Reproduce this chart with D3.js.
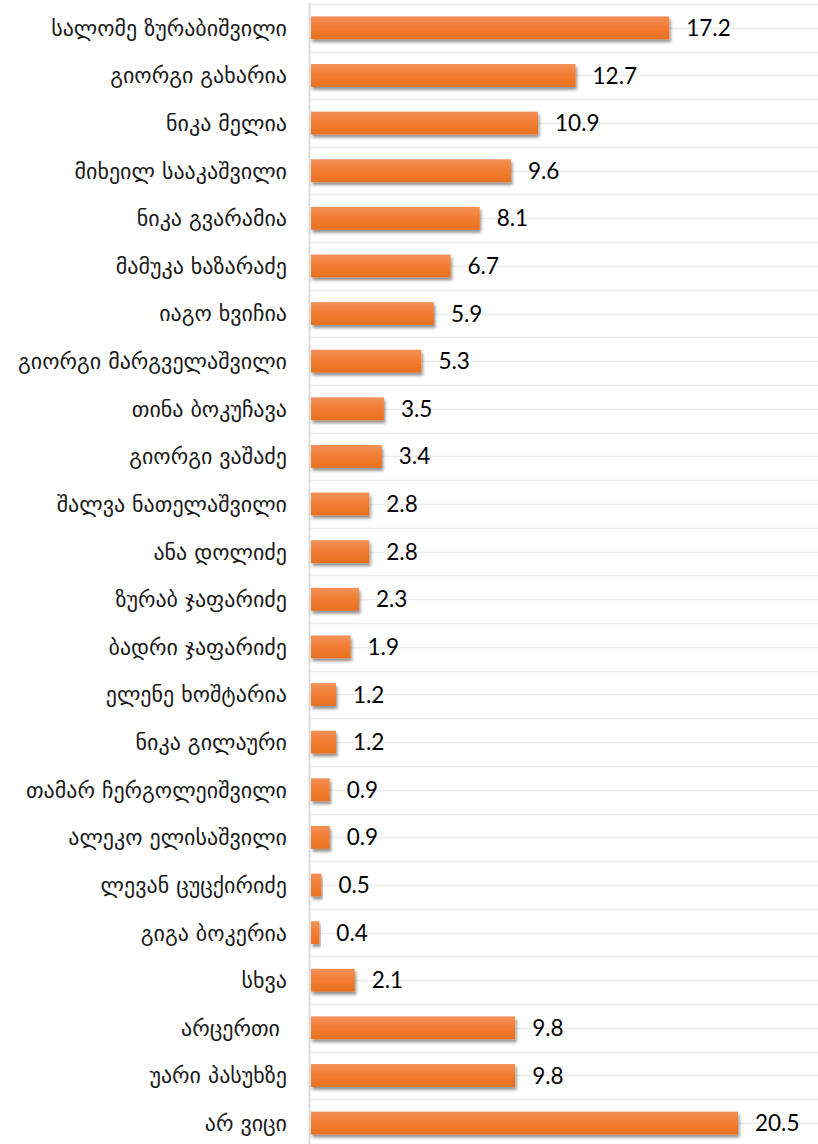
<!DOCTYPE html>
<html>
<head>
<meta charset="utf-8">
<script src="https://cdn.jsdelivr.net/npm/d3@7"></script>
<style>
  html, body { margin: 0; padding: 0; background: #ffffff; }
  svg { display: block; }
  .cat { font-family: "DejaVu Sans", sans-serif; fill: #1a1a1a; white-space: pre; }
  .val { font-family: Lato, "Open Sans", sans-serif; fill: #000000; }
</style>
</head>
<body>
<svg id="chart" width="818" height="1144"></svg>
<script>
// Survey answers, top to bottom
const categories = [
  "სალომე ზურაბიშვილი",
  "გიორგი გახარია",
  "ნიკა მელია",
  "მიხეილ სააკაშვილი",
  "ნიკა გვარამია",
  "მამუკა ხაზარაძე",
  "იაგო ხვიჩია",
  "გიორგი მარგველაშვილი",
  "თინა ბოკუჩავა",
  "გიორგი ვაშაძე",
  "შალვა ნათელაშვილი",
  "ანა დოლიძე",
  "ზურაბ ჯაფარიძე",
  "ბადრი ჯაფარიძე",
  "ელენე ხოშტარია",
  "ნიკა გილაური",
  "თამარ ჩერგოლეიშვილი",
  "ალეკო ელისაშვილი",
  "ლევან ცუცქირიძე",
  "გიგა ბოკერია",
  "სხვა",
  "არცერთი ",
  "უარი პასუხზე",
  "არ ვიცი"
];

// Share of respondents, %
const values = [
  17.2, 12.7, 10.9, 9.6, 8.1, 6.7, 5.9, 5.3, 3.5, 3.4, 2.8, 2.8,
  2.3, 1.9, 1.2, 1.2, 0.9, 0.9, 0.5, 0.4, 2.1, 9.8, 9.8, 20.5
];

const rows = categories.map((c, i) => ({ name: c, value: values[i] }));

const svg = d3.select("#chart");
const W = 818;
const axisX = 311;
const plotTop = 4, rowStep = 47.62;

const x = d3.scaleLinear().domain([0, 25]).range([axisX, axisX + 25 * 20.83]);
const y = d3.scaleBand()
  .domain(categories)
  .range([plotTop, plotTop + rowStep * categories.length])
  .paddingInner(0.52)
  .paddingOuter(0.26);

const defs = svg.append("defs");
const grad = defs.append("linearGradient")
  .attr("id", "barFill").attr("x1", 0).attr("y1", 0).attr("x2", 0).attr("y2", 1);
grad.append("stop").attr("offset", "0%").attr("stop-color", "#f3915a");
grad.append("stop").attr("offset", "45%").attr("stop-color", "#f27e34");
grad.append("stop").attr("offset", "100%").attr("stop-color", "#e8701f");

const shadow = defs.append("filter").attr("id", "barShadow")
  .attr("x", "-5%").attr("y", "-30%").attr("width", "120%").attr("height", "170%");
shadow.append("feDropShadow")
  .attr("dx", 1.5).attr("dy", 3).attr("stdDeviation", 1.7)
  .attr("flood-color", "#000").attr("flood-opacity", 0.42);

// Faint horizontal rules at every band edge and band middle
const ruleYs = [];
categories.forEach(c => {
  ruleYs.push(y(c) - y.step() * y.paddingInner() / 2);
  ruleYs.push(y(c) + y.bandwidth() / 2);
});
svg.append("g").selectAll("line").data(ruleYs).join("line")
  .attr("x1", axisX).attr("x2", W)
  .attr("y1", d => Math.round(d) + 0.5).attr("y2", d => Math.round(d) + 0.5)
  .attr("stroke", "#ececec").attr("stroke-width", 1.5);

// Category axis line
svg.append("line")
  .attr("x1", axisX - 1.5).attr("x2", axisX - 1.5)
  .attr("y1", plotTop - 1).attr("y2", 1144)
  .attr("stroke", "#d9d9d9").attr("stroke-width", 2);

// Bars
svg.append("g").selectAll("rect").data(rows).join("rect")
  .attr("x", x(0))
  .attr("y", d => y(d.name))
  .attr("width", d => x(d.value) - x(0))
  .attr("height", y.bandwidth())
  .attr("fill", "url(#barFill)")
  .attr("filter", "url(#barShadow)");

// Value labels
svg.append("g").selectAll("text").data(rows).join("text")
  .attr("class", "val")
  .attr("x", d => x(d.value) + 17)
  .attr("y", d => y(d.name) + y.bandwidth() / 2)
  .attr("dy", "0.36em")
  .attr("font-size", 22.5)
  .text(d => d.value.toFixed(1));

// Category labels
svg.append("g").selectAll("text").data(rows).join("text")
  .attr("class", "cat")
  .attr("x", 287)
  .attr("y", d => y(d.name) + y.bandwidth() / 2)
  .attr("dy", "0.36em")
  .attr("text-anchor", "end")
  .attr("font-size", 22)
  .text(d => d.name);
</script>
</body>
</html>
